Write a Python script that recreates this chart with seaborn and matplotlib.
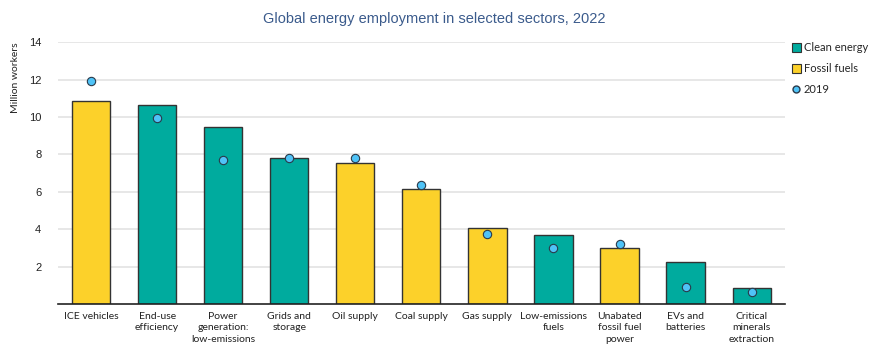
import numpy as np
import pandas as pd
import seaborn as sns
import matplotlib.pyplot as plt
from matplotlib.lines import Line2D
from matplotlib.patches import Patch

sectors = ['ICE vehicles', 'End-use\nefficiency', 'Power\ngeneration:\nlow-emissions',
           'Grids and\nstorage', 'Oil supply', 'Coal supply', 'Gas supply',
           'Low-emissions\nfuels', 'Unabated\nfossil fuel\npower', 'EVs and\nbatteries',
           'Critical\nminerals\nextraction']
kind = ['Fossil fuels', 'Clean energy', 'Clean energy', 'Clean energy', 'Fossil fuels',
        'Fossil fuels', 'Fossil fuels', 'Clean energy', 'Fossil fuels', 'Clean energy',
        'Clean energy']
jobs_2022 = [10.85, 10.65, 9.47, 7.82, 7.55, 6.13, 4.08, 3.7, 3.0, 2.25, 0.85]
jobs_2019 = [11.93, 9.95, 7.7, 7.8, 7.8, 6.36, 3.74, 3.0, 3.22, 0.9, 0.65]

teal = '#00AB9E'
yellow = '#FCD12A'
dot = '#4FC3F7'

df = pd.DataFrame({'sector': sectors, 'kind': kind, 'y2022': jobs_2022, 'y2019': jobs_2019})

sns.set_style('white')
plt.rcParams['font.family'] = ['Lato', 'DejaVu Sans']

fig = plt.figure(figsize=(8.69, 3.45), dpi=100)
ax = fig.add_axes([0.0667, 0.1188, 0.8363, 0.7592])

sns.barplot(data=df, x='sector', y='y2022', hue='kind', dodge=False, width=0.58,
            palette={'Clean energy': teal, 'Fossil fuels': yellow}, saturation=1,
            edgecolor='#333333', linewidth=1.0, legend=False, ax=ax, zorder=2)
sns.stripplot(data=df, x='sector', y='y2019', jitter=False, color=dot, size=6,
              edgecolor='#2a3a4a', linewidth=0.8, ax=ax, zorder=3)

ax.set_ylim(0, 14)
ax.set_xlim(-0.5, len(sectors) - 0.5)
ax.set_yticks([2, 4, 6, 8, 10, 12, 14])
ax.yaxis.grid(True, color='#e3e3e3', linewidth=1.2, zorder=0)
ax.set_axisbelow(True)
for s in ['top', 'right', 'left']:
    ax.spines[s].set_visible(False)
ax.spines['bottom'].set_color('#222222')
ax.spines['bottom'].set_linewidth(1.2)
ax.tick_params(axis='x', length=0, labelsize=7.5, colors='#222222', pad=6)
ax.tick_params(axis='y', length=0, labelsize=8, colors='#222222', pad=12)
for lab in ax.get_xticklabels():
    lab.set_linespacing(1.3)
for lab in ax.get_yticklabels():
    lab.set_family(['Liberation Sans', 'DejaVu Sans'])
ax.set_xlabel('')
ax.set_ylabel('Million workers', fontsize=7.5, color='#222222', loc='top')
ax.yaxis.set_label_coords(-0.052, 1.0)

fig.text(0.5, 0.945, 'Global energy employment in selected sectors, 2022', ha='center',
         va='center', fontsize=10.5, color='#3b5b8c', family=['Liberation Sans', 'DejaVu Sans'])

handles = [Patch(facecolor=teal, edgecolor='#333333', linewidth=0.8, label='Clean energy'),
           Patch(facecolor=yellow, edgecolor='#333333', linewidth=0.8, label='Fossil fuels'),
           Line2D([], [], marker='o', linestyle='', markerfacecolor=dot,
                  markeredgecolor='#2a3a4a', markersize=5, label='2019')]
fig.legend(handles=handles, loc='upper left', bbox_to_anchor=(0.906, 0.89), frameon=False,
           fontsize=8, handlelength=0.8, handleheight=0.8, handletextpad=0.3,
           labelspacing=0.9, borderaxespad=0)

fig.savefig('out.png', dpi=100)
